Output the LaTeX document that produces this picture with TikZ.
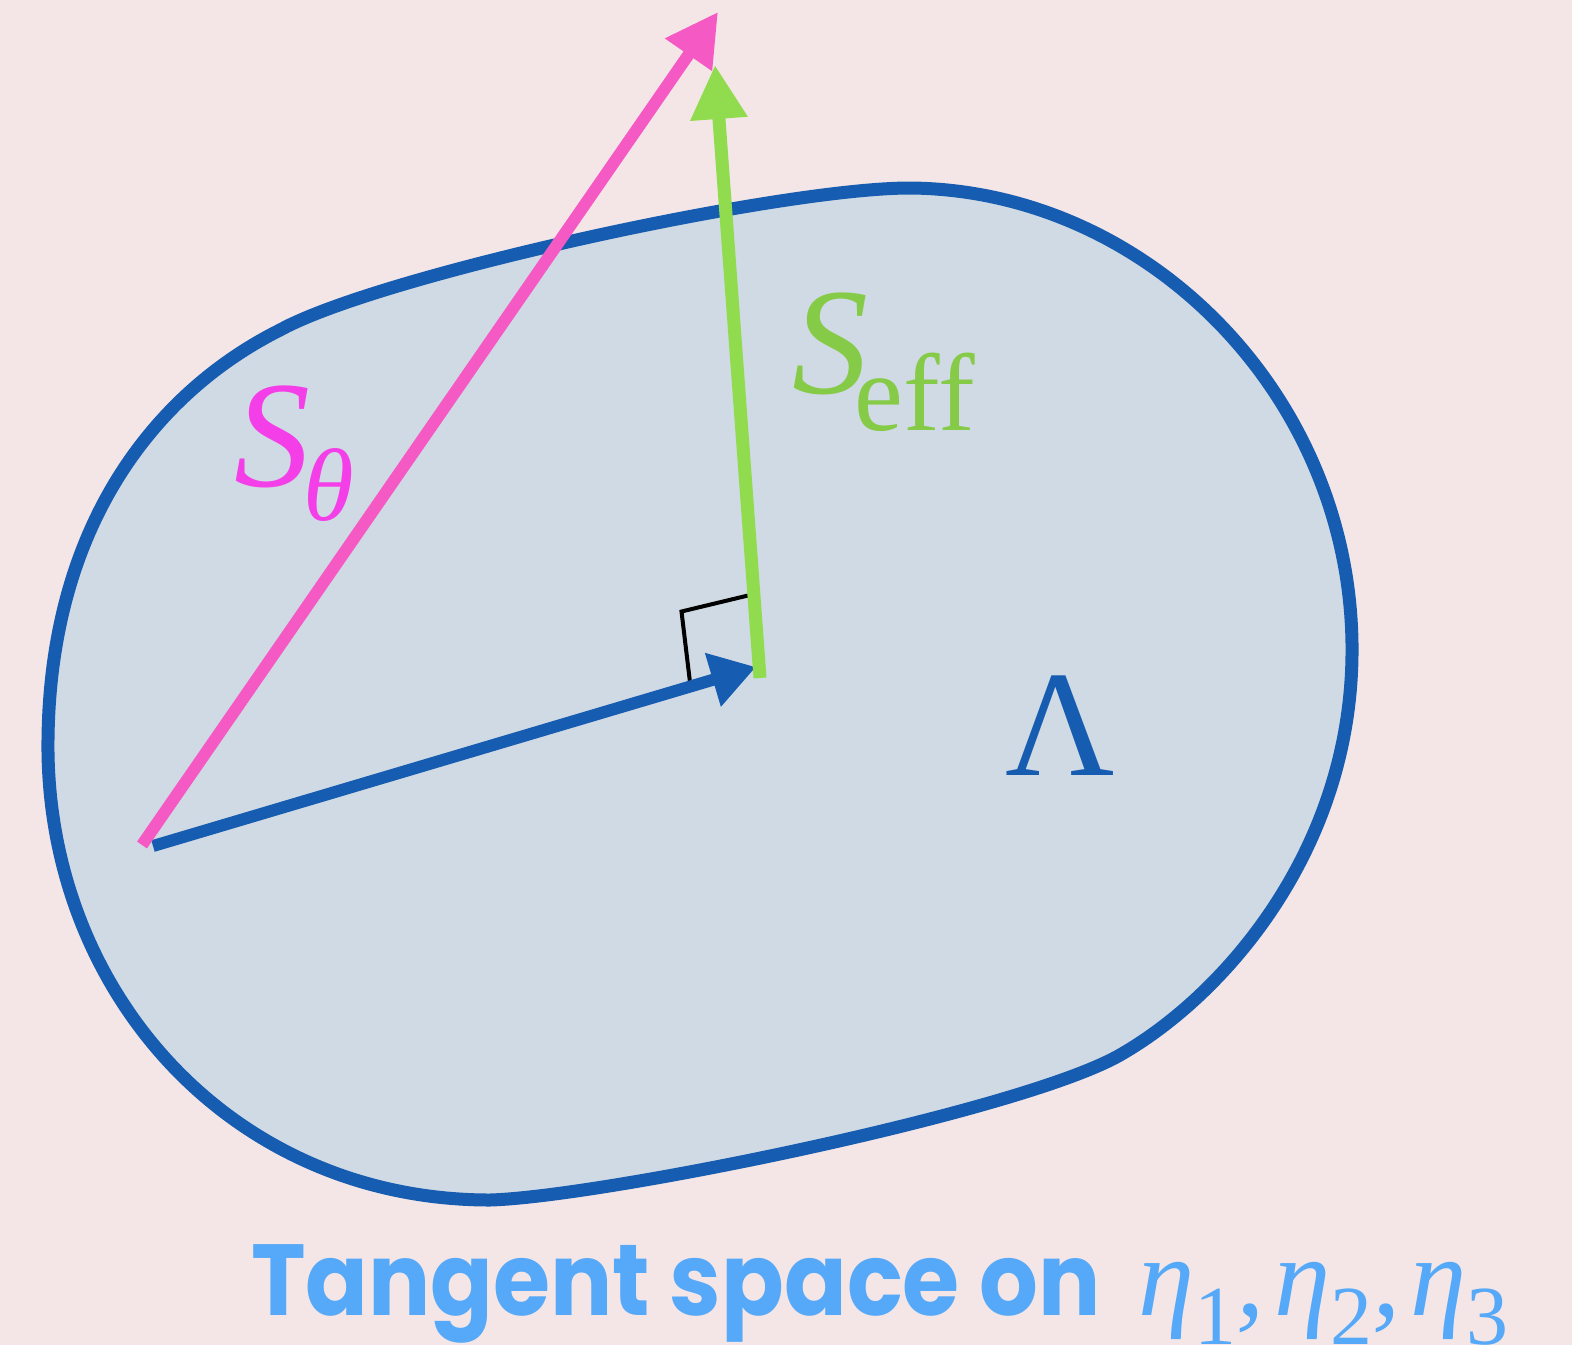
\documentclass[tikz,border=0pt]{standalone}
\usepackage{fontspec}
\setmainfont{Liberation Serif}
\newfontfamily\popfont{Poppins}
\usetikzlibrary{arrows.meta}
\definecolor{bgc}{HTML}{F4E6E6}
\definecolor{blobfill}{HTML}{D0DAE4}
\definecolor{blueline}{HTML}{165CB0}
\definecolor{pinkline}{HTML}{F55AC4}
\definecolor{greenline}{HTML}{90DC4E}
\definecolor{pinklabel}{HTML}{F43FE8}
\definecolor{greenlabel}{HTML}{86CB48}
\definecolor{textblue}{HTML}{55A9F8}
\tikzset{
  blobline/.style={draw=blueline, line width=13pt, fill=blobfill},
  vecpink/.style={draw=pinkline, line width=12pt, -{Triangle[length=52pt,width=54pt]}, pinkline},
  vecgreen/.style={draw=greenline, line width=13pt, -{Triangle[length=54pt,width=54pt]}, greenline},
  vecblue/.style={draw=blueline, line width=12pt, -{Triangle[length=45pt,width=53pt]}, blueline},
  rightmark/.style={draw=black, line width=4pt},
  lbl/.style={inner sep=0pt, anchor=base},
}
\begin{document}
\begin{tikzpicture}[x=1pt,y=-1pt, line join=miter]
\useasboundingbox[fill=bgc] (0,0) rectangle (1572,1345);
\path[blobline] (280,330) .. controls (380,275) and (780,188) .. (910,188)
  .. controls (1150,190) and (1355,400) .. (1352,655)
  .. controls (1350,850) and (1225,995) .. (1120,1055)
  .. controls (1020,1112) and (600,1197) .. (490,1200)
  .. controls (230,1200) and (45,990) .. (48,740)
  .. controls (50,520) and (160,390) .. (280,330) -- cycle;
\coordinate (pS) at (142,845);
\coordinate (pT) at (718,12);
\coordinate (gS) at (760,678);
\coordinate (gT) at (715,65);
\coordinate (bS) at (153,846);
\coordinate (bT) at (756,667);
\coordinate (r1) at (690.5,686.5);
\coordinate (r2) at (681.5,611.5);
\coordinate (r3) at (748,595.5);
\draw[rightmark] (r1) -- (r2) -- (r3);
\draw[vecblue] (bS) -- (bT);
\draw[vecpink] (pS) -- (pT);
\draw[vecgreen] (gS) -- (gT);
% labels
\node[lbl, text=pinklabel, font=\fontsize{152}{152}\selectfont\itshape] (sth) at (272,486) {S};
\node[lbl, text=pinklabel, font=\fontsize{103}{103}\selectfont\itshape] (thsub) at (329,520) {θ};
\node[lbl, text=greenlabel, font=\fontsize{152}{152}\selectfont\itshape] (seff) at (830,393) {S};
\node[lbl, text=greenlabel, font=\fontsize{110}{110}\selectfont] (effsub) at (915,430) {eff};
\node[lbl, text=blueline, font=\fontsize{151}{151}\selectfont] (lam) at (1060,775) {Λ};
\node[inner sep=0pt, anchor=base west, text=textblue, font=\fontsize{101}{101}\popfont\bfseries] (cap) at (251,1315) {\scalebox{0.915}[1]{Tangent space on}};
\node[inner sep=0pt, anchor=base west, text=textblue, font=\fontsize{113}{113}\selectfont] (etas) at (1138,1315)
 {\itshape η\raisebox{-29pt}{\fontsize{84}{84}\selectfont\upshape 1},\hspace{10pt}η\raisebox{-29pt}{\fontsize{84}{84}\selectfont\upshape 2},\hspace{10pt}η\raisebox{-29pt}{\fontsize{84}{84}\selectfont\upshape 3}};
\end{tikzpicture}
\end{document}
